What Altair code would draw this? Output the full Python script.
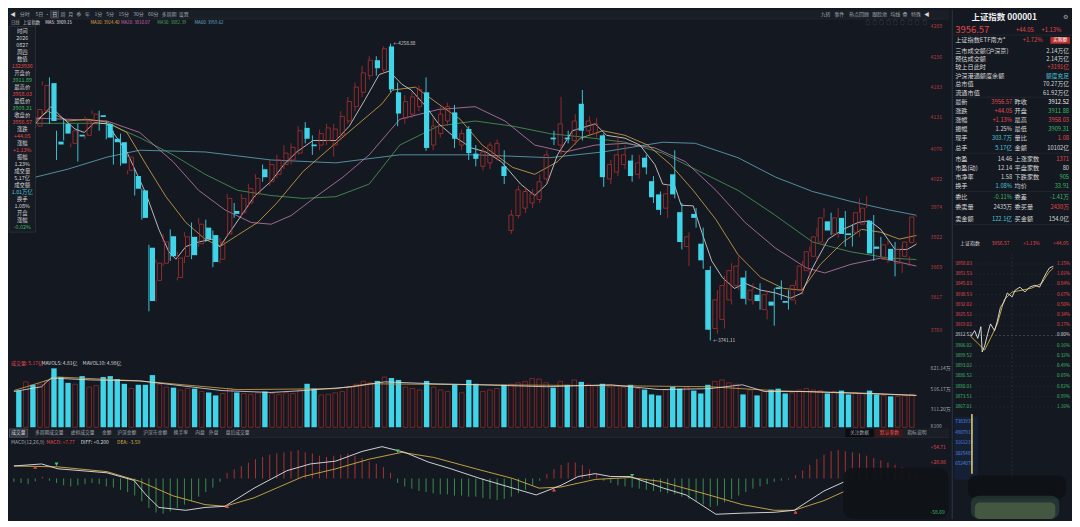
import altair as alt
import pandas as pd

FONT = "Noto Sans CJK SC"
BG = "#141821"
CYAN = "#3fd4e8"
CRED = "#ad312f"
TRED = "#e2484a"
TGRN = "#3dbb62"
TWHT = "#d6d6d6"
TGRY = "#a0a6ae"
TTEAL = "#4cc6d6"
LINEC = "#232831"

# ---------------- data ----------------
opens = [4119, 4109, 4124, 4115, 4141, 4190, 4088, 4119, 4085, 4100,
         4099, 4119, 4134, 4119, 4093, 4087, 4038, 4028, 4003, 3903,
         3846, 3876, 3923, 3851, 3888, 3922, 3910, 3938, 3925, 3883,
         3927, 3967, 3964, 3981, 3997, 4040, 4018, 4031, 4048, 4056,
         4068, 4112, 4083, 4082, 4090, 4082, 4099, 4124, 4149, 4174,
         4203, 4230, 4213, 4254, 4174, 4129, 4136, 4149, 4174, 4082,
         4102, 4124, 4139, 4082, 4110, 4067, 4045, 4051, 4061, 4045,
         3933, 3959, 3972, 3981, 3987, 4023, 4095, 4082, 4095, 4090,
         4154, 4107, 4102, 4099, 4023, 4035, 4048, 4055, 4031, 4060,
         4019, 3996, 3972, 4031, 3965, 3905, 3962, 3910, 3864, 3762,
         3778, 3812, 3837, 3851, 3812, 3821, 3795, 3809, 3834, 3810,
         3812, 3829, 3863, 3888, 3913, 3949, 3927, 3955, 3928, 3930,
         3944, 3950, 3905, 3883, 3901, 3876, 3888, 3911.88]
closes = [4105, 4129, 4112, 4144, 4186, 4124, 4083, 4102, 4107, 4097,
          4124, 4136, 4131, 4095, 4087, 4050, 4061, 4006, 3955, 3810,
          3876, 3913, 3888, 3885, 3922, 3890, 3944, 3918, 3878, 3913,
          3989, 3962, 3989, 4006, 4024, 4026, 4048, 4056, 4068, 4078,
          4107, 4093, 4080, 4102, 4112, 4110, 4132, 4158, 4183, 4208,
          4230, 4216, 4250, 4179, 4137, 4158, 4166, 4179, 4077, 4115,
          4136, 4149, 4093, 4102, 4068, 4058, 4070, 4082, 4085, 4028,
          3960, 4004, 4001, 3997, 4018, 4065, 4092, 4119, 4092, 4124,
          4107, 4124, 4119, 4026, 4048, 4065, 4065, 4028, 4051, 4043,
          3991, 3969, 3997, 3996, 3913, 3922, 3955, 3881, 3760, 3812,
          3837, 3863, 3871, 3814, 3829, 3810, 3821, 3802, 3831, 3807,
          3837, 3871, 3896, 3922, 3955, 3933, 3955, 3927, 3925, 3964,
          3972, 3893, 3901, 3908, 3881, 3900, 3913, 3956.57]
highs = [4129, 4136, 4132, 4149, 4193, 4200, 4107, 4127, 4115, 4119,
         4132, 4142, 4142, 4124, 4107, 4102, 4068, 4040, 4006, 3908,
         3883, 3927, 3935, 3896, 3930, 3947, 3955, 3952, 3933, 3920,
         3997, 3981, 3997, 4014, 4031, 4048, 4056, 4065, 4082, 4085,
         4115, 4122, 4099, 4109, 4119, 4119, 4141, 4166, 4191, 4220,
         4237, 4237, 4254, 4258.88, 4191, 4169, 4174, 4186, 4200, 4129,
         4149, 4156, 4152, 4109, 4115, 4082, 4077, 4087, 4092, 4073,
         3969, 4011, 4008, 4006, 4031, 4073, 4107, 4166, 4107, 4136,
         4178, 4132, 4129, 4102, 4056, 4099, 4082, 4065, 4065, 4065,
         4028, 4001, 4014, 4073, 3981, 3930, 3972, 3938, 3871, 3829,
         3854, 3876, 3888, 3863, 3841, 3841, 3829, 3832, 3846, 3829,
         3846, 3880, 3905, 3938, 3972, 3964, 3972, 3967, 3944, 3989,
         3993, 3960, 3922, 3917, 3913, 3908, 3922, 3958.03]
lows = [4099, 4102, 4105, 4110, 4136, 4119, 4056, 4090, 4078, 4053,
        4092, 4112, 4107, 4092, 4048, 4046, 4031, 3994, 3952, 3792,
        3809, 3871, 3880, 3846, 3876, 3883, 3905, 3913, 3869, 3876,
        3922, 3955, 3957, 3974, 3991, 4018, 4011, 4024, 4040, 4048,
        4065, 4085, 4065, 4073, 4082, 4062, 4090, 4119, 4141, 4166,
        4196, 4203, 4206, 4174, 4115, 4119, 4129, 4141, 4072, 4073,
        4095, 4115, 4077, 4073, 4056, 4045, 4038, 4040, 4055, 4014,
        3927, 3954, 3964, 3972, 3981, 4014, 4082, 4065, 4085, 4082,
        4090, 4099, 4095, 4009, 4014, 4028, 4040, 4018, 4023, 4031,
        3981, 3960, 3955, 3989, 3900, 3871, 3938, 3866, 3741.11, 3753,
        3762, 3804, 3829, 3804, 3804, 3795, 3778, 3767, 3812, 3795,
        3804, 3821, 3854, 3880, 3905, 3925, 3920, 3905, 3905, 3922,
        3937, 3880, 3888, 3876, 3853, 3859, 3871, 3909.31]
volumes = [511, 633, 592, 600, 650, 821, 700, 619, 600, 713,
           560, 580, 700, 713, 673, 606, 540, 592, 592, 727,
           600, 560, 552, 520, 540, 538, 500, 485, 444, 470,
           540, 485, 470, 460, 480, 498, 470, 460, 480, 470,
           520, 606, 538, 450, 460, 480, 500, 560, 600, 640,
           620, 646, 700, 686, 660, 560, 540, 520, 646, 560,
           520, 500, 592, 480, 660, 606, 500, 520, 540, 592,
           600, 620, 640, 680, 672, 620, 552, 640, 592, 660,
           633, 600, 580, 606, 560, 580, 560, 592, 540, 525,
           458, 444, 520, 565, 538, 560, 511, 471, 592, 640,
           660, 620, 600, 458, 520, 444, 500, 525, 538, 471,
           480, 520, 540, 520, 510, 471, 500, 511, 458, 480,
           470, 511, 458, 440, 431, 430, 440, 460]

ma5 = [(3.0, 4119), (3.9, 4132), (5.2, 4149), (6.6, 4132), (8.6, 4110), (9.9, 4104), (11.3, 4121),
       (13.1, 4119), (15.9, 4070), (18.6, 3997), (20.4, 3935), (21.8, 3896), (22.8, 3883), (24.2, 3905),
       (26.0, 3913), (27.9, 3918), (29.0, 3905), (30.1, 3925), (32.0, 3959), (33.8, 3992), (36.2, 4019),
       (38.0, 4048), (39.8, 4070), (42.1, 4090), (45.3, 4090), (47.2, 4115), (49.4, 4161), (51.4, 4205),
       (52.8, 4211), (54.6, 4188), (55.9, 4178), (58.0, 4149), (59.7, 4120), (61.7, 4099), (64.4, 4077),
       (66.4, 4070), (68.6, 4053), (71.3, 4014), (73.3, 3994), (75.0, 4014), (76.5, 4065), (78.6, 4107),
       (81.8, 4119), (83.4, 4099), (86.0, 4094), (88.1, 4082), (90.2, 4048), (91.3, 4014), (93.0, 4011),
       (93.9, 3977), (95.6, 3976), (96.8, 3930), (98.2, 3880), (99.7, 3851), (101.4, 3832), (102.9, 3841),
       (105.1, 3829), (107.2, 3824), (109.3, 3815), (110.9, 3824), (112.4, 3868), (114.6, 3918),
       (116.7, 3935), (118.8, 3947), (120.4, 3950), (122.0, 3935), (124.0, 3900), (125.7, 3900),
       (127.0, 3909.15)]
ma10 = [(3.0, 4124), (4.8, 4141), (7.6, 4124), (10.4, 4127), (13.1, 4122), (15.9, 4104), (18.6, 4048),
        (21.4, 3992), (24.2, 3947), (26.9, 3918), (29.0, 3905), (31.5, 3925), (34.3, 3947), (37.0, 3981),
        (40.7, 4036), (44.5, 4077), (48.1, 4115), (51.8, 4154), (53.3, 4178), (56.5, 4183), (59.7, 4154),
        (62.8, 4127), (65.9, 4082), (70.2, 4043), (73.3, 4031), (76.5, 4053), (79.7, 4094), (82.9, 4107),
        (86.0, 4099), (89.2, 4082), (92.4, 4048), (95.6, 4003), (98.8, 3952), (101.9, 3891), (105.1, 3851),
        (108.3, 3832), (110.9, 3829), (113.5, 3874), (116.7, 3913), (119.3, 3935), (122.0, 3930),
        (124.6, 3918), (127.0, 3924.40)]
ma20 = [(3.0, 4129), (7.6, 4127), (13.1, 4124), (17.7, 4104), (22.4, 4053), (26.0, 4003), (29.7, 3969),
        (33.4, 3947), (36.2, 3944), (39.0, 3959), (42.5, 3992), (46.3, 4026), (50.0, 4065), (54.3, 4127),
        (59.7, 4144), (64.9, 4149), (69.1, 4124), (73.3, 4082), (77.6, 4070), (81.8, 4082), (86.0, 4085),
        (90.2, 4077), (94.5, 4053), (98.8, 4003), (102.9, 3947), (107.2, 3902), (111.5, 3868),
        (114.1, 3859), (117.8, 3874), (122.0, 3885), (127.0, 3871)]
ma30 = [(3.0, 4120), (13.1, 4120), (17.7, 4095), (22.4, 4065), (26.9, 4031), (31.5, 4003), (36.2, 3994),
        (40.7, 3989), (45.3, 3992), (50.0, 4014), (54.3, 4082), (59.7, 4115), (64.9, 4124), (70.2, 4115),
        (75.4, 4102), (80.8, 4095), (86.0, 4087), (91.3, 4068), (96.5, 4036), (101.9, 4003), (107.2, 3959),
        (112.4, 3913), (117.7, 3896), (123.1, 3885), (127.0, 3882.39)]
ma60 = [(3.0, 4026), (7.6, 4040), (13.1, 4061), (17.7, 4073), (26.9, 4070), (36.2, 4056), (45.3, 4051),
        (54.3, 4065), (64.9, 4065), (75.4, 4060), (82.9, 4070), (91.3, 4087), (95.9, 4085), (101.9, 4060),
        (107.2, 4026), (112.4, 4001), (117.7, 3984), (123.1, 3969), (127.0, 3959.62)]

mavol5 = [(0, 498), (3.9, 565), (5.2, 686), (10.8, 660), (17.7, 646), (22.4, 592), (29.3, 511), (36.2, 485),
          (40.7, 511), (47.7, 565), (52.2, 633), (59.1, 606), (65.6, 592), (74.9, 565), (84.0, 592),
          (90.9, 525), (97.8, 538), (102.5, 592), (105.7, 498), (111.6, 498), (120.9, 471), (127.0, 444)]
mavol10 = [(0, 511), (6.2, 700), (17.7, 646), (31.5, 525), (45.3, 538), (50.0, 606), (65.6, 592),
           (84.0, 579), (97.8, 565), (107.0, 511), (127.0, 444)]

diff_line = [(0, 22), (3.9, 25.5), (6.2, 17), (13.1, 10), (16.9, -3.4), (18.6, -29), (20.4, -51), (24.2, -56),
             (26.9, -51), (29.7, -49), (33.8, -17), (38.4, 13.6), (41.7, 25.5), (45.3, 30.6), (49.0, 47.6),
             (51.8, 56), (55.0, 46), (58.3, 29), (61.5, 17), (65.6, 0), (69.3, -13.6), (73.5, -29), (77.0, -12),
             (79.4, 3.4), (81.8, 8.5), (84.0, 3.4), (86.7, 3.4), (89.5, -8.5), (91.4, -17), (94.6, -29),
             (98.8, -63), (102.5, -61), (107.0, -59.5), (109.8, -56), (114.0, -22), (117.0, -5)]
dea_line = [(0, 22), (6.2, 20.4), (13.1, 12), (17.7, -5), (22.4, -30.6), (26.9, -46), (29.7, -49), (33.8, -34),
            (40.7, 3.4), (45.3, 17), (50.0, 34), (54.6, 46), (59.1, 37), (65.6, 15), (70.2, 0), (73.9, -17),
            (77.0, -15), (81.8, -1.7), (86.7, 1.7), (90.9, -5), (97.8, -29), (102.5, -46), (107.0, -56),
            (109.8, -56), (114.0, -39), (117.0, -22)]
macd_hist = [-6, -8, -10, -5, 3, -4, -8, -12, -14, -12,
             -10, -8, -10, -14, -16, -20, -24, -30, -40, -52,
             -60, -62, -58, -52, -46, -40, -32, -24, -16, -6,
             10, 16, 22, 28, 34, 38, 42, 44, 46, 48,
             50, 46, 44, 40, 38, 40, 42, 44, 40, 36,
             30, 26, 20, 10, -8, -14, -18, -22, -24, -26,
             -28, -28, -30, -30, -32, -32, -34, -36, -38, -36,
             -32, -26, -20, -12, -4, 8, 16, 24, 28, 28,
             24, 16, 8, -4, -8, -12, -14, -16, -18, -20,
             -22, -24, -26, -28, -32, -36, -40, -46, -50, -48,
             -42, -36, -30, -24, -18, -14, -10, -6, -4, -2,
             6, 14, 24, 34, 42, 48, 50, 48, 46, 44,
             40, 36, 32, 28, 24, 20, 16, 12]
macd_marks = [(3, 20, "up"), (6, 25, "down"), (30, -49, "up"), (54, 48, "down"),
              (76, -20, "up"), (87, 5, "down"), (110, -59, "up")]

price_ticks = [4289, 4236, 4183, 4131, 4076, 4022, 3974, 3922, 3869, 3817, 3760]
extremes = [(53, 4258.88, "←4258.88"), (98, 3741.11, "←3741.11")]

intraday_t = [0, 11, 20, 29, 33, 40, 49, 57, 69, 77, 86, 97, 106, 120, 129, 143, 157, 171, 186, 200, 211, 220, 229, 240]
intraday_p = [3911.9, 3915.6, 3910.7, 3918.1, 3902.0, 3905.8, 3913.8, 3919.9, 3915.6, 3921.7, 3930.4, 3934.0,
              3939.6, 3937.1, 3941.4, 3943.3, 3940.2, 3943.3, 3944.5, 3943.3, 3948.8, 3952.5, 3955.6, 3956.57]
avg_t = [0, 20, 40, 57, 77, 97, 120, 149, 177, 206, 226, 240]
avg_p = [3911.9, 3907.6, 3903.3, 3910.7, 3919.9, 3935.3, 3940.2, 3941.4, 3942.7, 3945.7, 3952.5, 3955.6]
mini_levels = [3958.03, 3951.53, 3945.03, 3938.53, 3932.02, 3925.52, 3919.02, 3912.52,
               3906.02, 3899.52, 3893.02, 3886.52, 3880.01, 3873.51, 3867.01]
mini_pct = ["1.15%", "1.01%", "0.84%", "0.67%", "0.50%", "0.34%", "0.17%", "0.00%",
            "0.16%", "0.32%", "0.49%", "0.65%", "0.82%", "0.99%", "1.16%"]
mini_vol_labels = ["7383937", "4907913", "3161219", "3025485", "6524076"]
mini_vol_t = [3]
mini_vol_v = [8600000]

# ---------------- layout calibration ----------------
W, H = 1064, 511
SX, SY = W / 1080.0, H / 527.0


def sx(x):
    return x * SX


def sy(y):
    return y * SY


LW = round(sx(958))
RW = W - LW
HP = round(sy(360))
HV = round(sy(433)) - HP
HM = H - HP - HV
Y1, Y2 = HP, HP + HV

K = (4289 - 3760) / (331 - 17)


def price_at(yr):
    return 4289 - (yr - 17) * K


VK = 821.14 / (432 - 371)


def vol_at(yr):
    return (432 - yr) * VK


def macd_at(yr):
    return (485 - yr) * 1.7


def t_at(xr):
    return (xr - 978) / 0.35


def ip_at(yr):
    return 3912.52 + (337 - yr) * 0.615


def mv_at(yr):
    return (480 - yr) * 7383937 / (480 - 427)


XS = alt.Scale(domain=[(0 - 5) / 7.24, (LW / SX - 5) / 7.24], nice=False, zero=False)
PS = alt.Scale(domain=[price_at(HP / SY), price_at(0)], nice=False, zero=False)
VS = alt.Scale(domain=[vol_at(Y2 / SY), vol_at(Y1 / SY)], nice=False, zero=False)
MS = alt.Scale(domain=[macd_at(H / SY), macd_at(Y2 / SY)], nice=False, zero=False)
TS = alt.Scale(domain=[t_at(LW / SX), t_at(1080)], nice=False, zero=False)
IS = alt.Scale(domain=[ip_at(527), ip_at(0)], nice=False, zero=False)
MVS = alt.Scale(domain=[mv_at(527), mv_at(0)], nice=False, zero=False)

ONE = pd.DataFrame({"a": [0]})


def T(rows, ox=0.0, oy=0.0, align="left", weight="normal"):
    df = pd.DataFrame([{"px": sx(r[0]) - ox, "py": sy(r[1]) - oy, "t": r[2], "col": r[3], "fs": r[4]}
                       for r in rows])
    return alt.Chart(df).mark_text(align=align, baseline="middle", font=FONT, fontWeight=weight).encode(
        x=alt.X("px:Q", scale=None, axis=None),
        y=alt.Y("py:Q", scale=None, axis=None),
        text=alt.Text("t:N"),
        color=alt.Color("col:N", scale=None, legend=None),
        size=alt.Size("fs:Q", scale=None, legend=None),
    )


def R(x1, y1, x2, y2, fill, stroke=None, ox=0.0, oy=0.0, sw=0.6, opacity=1.0, radius=0):
    kw = {"fill": fill, "opacity": opacity}
    if radius:
        kw["cornerRadius"] = radius
    if stroke:
        kw.update(stroke=stroke, strokeWidth=sw)
    return alt.Chart(ONE).mark_rect(**kw).encode(
        x=alt.value(sx(x1) - ox), x2=alt.value(sx(x2) - ox),
        y=alt.value(sy(y1) - oy), y2=alt.value(sy(y2) - oy))


def L(x1, y1, x2, y2, color=LINEC, ox=0.0, oy=0.0, sw=0.8):
    return alt.Chart(ONE).mark_rule(color=color, strokeWidth=sw).encode(
        x=alt.value(sx(x1) - ox), x2=alt.value(sx(x2) - ox),
        y=alt.value(sy(y1) - oy), y2=alt.value(sy(y2) - oy))


# ---------------- price panel ----------------
cdf = pd.DataFrame({"i": list(range(len(opens))), "o": opens, "c": closes, "h": highs, "l": lows, "v": volumes})
cdf["top"] = cdf[["o", "c"]].max(axis=1)
cdf["bot"] = cdf[["o", "c"]].min(axis=1)
cdf["z"] = 0.0
up = cdf[cdf.c >= cdf.o]
dn = cdf[cdf.c < cdf.o]

X = alt.X("i:Q", scale=XS, axis=None)


def PY(f):
    return alt.Y(f"{f}:Q", scale=PS, axis=None)


ma_rows = []
for name, pairs, col in [("MA60", ma60, "#5fa9bc"), ("MA30", ma30, "#4a9c5a"), ("MA20", ma20, "#c27aae"),
                         ("MA10", ma10, "#d7a548"), ("MA5", ma5, "#dedede")]:
    for i, p in pairs:
        ma_rows.append({"ma": name, "i": i, "p": p, "col": col})
ma_df = pd.DataFrame(ma_rows)
ma_layer = alt.Chart(ma_df).mark_line(strokeWidth=0.9, opacity=0.9).encode(
    x=X, y=PY("p"), detail="ma:N", color=alt.Color("col:N", scale=None, legend=None))

wick_up1 = alt.Chart(up).mark_rule(color=CRED, strokeWidth=0.8).encode(x=X, y=PY("h"), y2="top:Q")
wick_up2 = alt.Chart(up).mark_rule(color=CRED, strokeWidth=0.8).encode(x=X, y=PY("bot"), y2="l:Q")
wick_dn = alt.Chart(dn).mark_rule(color=CYAN, strokeWidth=0.9).encode(x=X, y=PY("h"), y2="l:Q")
body_up = alt.Chart(up).mark_bar(size=4.2, fill=CRED, fillOpacity=0, stroke=CRED, strokeWidth=0.8).encode(
    x=X, y=PY("bot"), y2="top:Q")
body_dn = alt.Chart(dn).mark_bar(size=5.2, color=CYAN).encode(x=X, y=PY("top"), y2="bot:Q")

ext_df = pd.DataFrame([{"i": e[0], "p": e[1], "t": e[2]} for e in extremes])
ext_layer = alt.Chart(ext_df).mark_text(align="left", baseline="middle", dx=3, font=FONT, fontSize=4.8,
                                        color="#cfcfcf").encode(x=X, y=PY("p"), text="t:N")

pt_df = pd.DataFrame({"p": price_ticks, "t": [str(v) for v in price_ticks]})
pt_layer = alt.Chart(pt_df).mark_text(align="left", baseline="middle", font=FONT, fontSize=5.2,
                                      color="#b23c3c").encode(x=alt.value(sx(939)), y=PY("p"), text="t:N")

toolbar_bg = R(0, 0, 958, 9.3, "#1a1e27")
toolbar_line = L(0, 9.3, 958, 9.3)
day_box = R(42.5, 1, 50.5, 8.3, "#2a303a", stroke="#6a707a", sw=0.5)
tb_rows = [(4, 4.7, "◀", TWHT, 5.5), (16, 4.7, "分时", TGRY, 5), (31, 4.7, "5日", TGRY, 5), (39, 4.7, "·", TGRY, 5),
           (46.5, 4.7, "日", TWHT, 5), (55, 4.7, "周", TGRY, 5), (63, 4.7, "月", TGRY, 5), (71, 4.7, "季", TGRY, 5),
           (80, 4.7, "年", TGRY, 5), (91, 4.7, "1分", TGRY, 5), (103, 4.7, "5分", TGRY, 5),
           (117, 4.7, "15分", TGRY, 5), (132, 4.7, "30分", TGRY, 5), (147, 4.7, "60分", TGRY, 5),
           (163, 4.7, "多周期", TGRY, 5), (178, 4.7, "设置", TGRY, 5),
           (832, 4.7, "九转", TGRY, 5), (846, 4.7, "事件", TGRY, 5), (866, 4.7, "热点回顾", TGRY, 5),
           (887, 4.7, "跟踪池", TGRY, 5), (903, 4.7, "均线", TGRY, 5), (913, 4.7, "叠", TGRY, 5),
           (924, 4.7, "特殊", TGRY, 5), (935, 4.7, "◀", TWHT, 5.5)]
icon_rows = [(x, 13.3, "○", "#7a8088", 4.5) for x in (875, 882, 889, 896, 903, 910, 918, 925, 933)]
ma_head = [(2, 13.3, "日线", TGRY, 4.4), (14, 13.3, "上证指数", TWHT, 4.4), (37, 13.3, "MA5: 3909.15", "#e6e6e6", 4.4),
           (83, 13.3, "MA10: 3924.40", "#e0a94c", 4.4), (114, 13.3, "MA20: 3810.07", "#d06ab4", 4.4),
           (151, 13.3, "MA30: 3882.39", "#46a85a", 4.4), (189, 13.3, "MA60: 3959.62", "#62b4d2", 4.4)]

info_box = R(0, 17, 27, 230, "#161b24", stroke="#333a44", sw=0.6)
info_vals = [("时间", TWHT), ("2026", TWHT), ("0827", TWHT), ("周四", TWHT), ("数值", TWHT), ("1323936", TRED),
             ("开盘价", TWHT), ("3911.89", TGRN), ("最高价", TWHT), ("3958.03", TRED), ("最低价", TWHT),
             ("3909.31", TGRN), ("收盘价", TWHT), ("3956.57", TRED), ("涨跌", TWHT), ("+44.05", TRED),
             ("涨幅", TWHT), ("+1.13%", TRED), ("振幅", TWHT), ("1.23%", TWHT), ("成交量", TWHT),
             ("5.17亿", TWHT), ("成交额", TWHT), ("1.01万亿", TTEAL), ("换手", TWHT), ("1.08%", TWHT),
             ("开盘", TWHT), ("涨幅", TWHT), ("-0.02%", TGRN)]
info_rows = [(13.5, 22 + k * 7.25, t, c, 5.4) for k, (t, c) in enumerate(info_vals)]

price_panel = alt.layer(
    ma_layer, wick_up1, wick_up2, wick_dn, body_up, body_dn, ext_layer, pt_layer,
    toolbar_bg, toolbar_line, day_box, T(tb_rows, align="center"), T(icon_rows, align="center"),
    T(ma_head), info_box, T(info_rows, align="center"),
).resolve_scale(x="independent", y="independent", color="independent", size="independent").properties(
    width=LW, height=HP)

# ---------------- volume panel ----------------
def VY(f):
    return alt.Y(f"{f}:Q", scale=VS, axis=None)


vol_up = alt.Chart(up).mark_bar(size=4.6, fill=CRED, fillOpacity=0, stroke="#832826", strokeWidth=0.9).encode(
    x=X, y=VY("z"), y2="v:Q")
vol_dn = alt.Chart(dn).mark_bar(size=5.4, color=CYAN).encode(x=X, y=VY("z"), y2="v:Q")
mv_rows = []
for name, pairs, col in [("MAVOL10", mavol10, "#d7a548"), ("MAVOL5", mavol5, "#dedede")]:
    for i, v in pairs:
        mv_rows.append({"m": name, "i": i, "v": v, "col": col})
mv_layer = alt.Chart(pd.DataFrame(mv_rows)).mark_line(strokeWidth=0.9, opacity=0.9).encode(
    x=X, y=VY("v"), detail="m:N", color=alt.Color("col:N", scale=None, legend=None))
vol_head = [(2, 365, "成交量: 5.17亿", TRED, 5), (33, 365, "MAVOL5: 4.81亿", TWHT, 5),
            (75, 365, "MAVOL10: 4.98亿", TWHT, 5)]
vol_axis = [(939, 371, "821.14万", TGRY, 5), (939, 392, "516.17万", TGRY, 5), (939, 413, "311.20万", TGRY, 5),
            (939, 431, "X100", TGRY, 5)]
vol_panel = alt.layer(
    vol_up, vol_dn, mv_layer, T(vol_head, oy=Y1), T(vol_axis, oy=Y1),
).resolve_scale(x="independent", y="independent", color="independent", size="independent").properties(
    width=LW, height=HV)

# ---------------- MACD panel ----------------
def MY(f):
    return alt.Y(f"{f}:Q", scale=MS, axis=None)


hist_df = pd.DataFrame({"i": list(range(len(macd_hist))), "h": macd_hist, "z": 0.0})
hist_df["col"] = ["#b83636" if v > 0 else "#3b9a52" for v in macd_hist]
hist_layer = alt.Chart(hist_df).mark_rule(strokeWidth=0.9).encode(
    x=X, y=MY("z"), y2="h:Q", color=alt.Color("col:N", scale=None, legend=None))
ln_rows = []
for name, pairs, col in [("DEA", dea_line, "#d3ad45"), ("DIFF", diff_line, "#e4e4e4")]:
    for i, v in pairs:
        ln_rows.append({"n": name, "i": i, "v": v, "col": col})
macd_lines = alt.Chart(pd.DataFrame(ln_rows)).mark_line(strokeWidth=0.9).encode(
    x=X, y=MY("v"), detail="n:N", color=alt.Color("col:N", scale=None, legend=None))
mk_df = pd.DataFrame([{"i": m[0], "v": m[1],
                       "shp": "triangle-up" if m[2] == "up" else "triangle-down",
                       "col": "#e04a46" if m[2] == "up" else "#48c868"} for m in macd_marks])
mk_layer = alt.Chart(mk_df).mark_point(filled=True, size=16, opacity=1).encode(
    x=X, y=MY("v"), shape=alt.Shape("shp:N", scale=None, legend=None),
    color=alt.Color("col:N", scale=None, legend=None))

blur_blob = R(850, 474, 957, 527, "#0f1217", opacity=0.92, radius=10, oy=Y2)
tab_bg = R(0, 433.3, 958, 442.6, "#1a1e27", oy=Y2)
tab_line = L(0, 442.6, 958, 442.6, oy=Y2)
tab_sel = R(0.5, 433.8, 19, 442.2, "#2b313b", stroke="#6a707a", oy=Y2, sw=0.5)
tab_rows = [(9.5, 438, "成交量", TWHT, 4.8), (41, 438, "多周期成交量", TGRY, 4.8), (75, 438, "虚拟成交量", TGRY, 4.8),
            (99.5, 438, "金额", TGRY, 4.8), (120, 438, "沪深金额", TGRY, 4.8), (149, 438, "沪深市金额", TGRY, 4.8),
            (175, 438, "换手率", TGRY, 4.8), (194.5, 438, "内盘", TGRY, 4.8), (208.5, 438, "外盘", TGRY, 4.8),
            (233, 438, "盘后成交量", TGRY, 4.8)]
btn1 = R(852, 433.8, 881, 442.2, "#0b0d11", oy=Y2)
btn2 = R(883, 433.8, 911, 442.2, "#3a181a", oy=Y2)
btn_rows = [(866.5, 438, "关注数据", TGRY, 4.8), (897, 438, "默认参数", "#e25452", 4.8), (925, 438, "指标说明", TGRY, 4.8)]
macd_head = [(2, 447, "MACD(12,26,9)", TGRY, 5), (38, 447, "MACD: +7.77", TRED, 5),
             (73, 447, "DIFF: +0.200", TWHT, 5), (110, 447, "DEA: -3.59", "#d3ad45", 5)]
macd_axis = [(939, 452, "+54.71", TRED, 5), (939, 468, "+20.98", TRED, 5), (939, 520, "-58.69", TGRN, 5)]

macd_panel = alt.layer(
    hist_layer, macd_lines, mk_layer, blur_blob, tab_bg, tab_line, tab_sel, T(tab_rows, oy=Y2, align="center"),
    btn1, btn2, T(btn_rows, oy=Y2, align="center"), T(macd_head, oy=Y2), T(macd_axis, oy=Y2),
).resolve_scale(x="independent", y="independent", color="independent", size="independent",
                shape="independent").properties(width=LW, height=HM)

# ---------------- right panel ----------------
OX = LW
rp_title = [(1012, 7.5, "上证指数 000001", "#f0f0f0", 8.5)]
rp_gear = [(1074, 7.5, "⚙", TGRY, 6)]
rp_price = [(962, 20.5, "3956.57", TRED, 9.5)]
rp_chg = [(1024, 20.5, "+44.05", TRED, 5.8), (1050, 20.5, "+1.13%", TRED, 5.8)]
rp_left = [(962, 31.5, "上证指数ETF南方*", TWHT, 6.2), (962, 42, "三市成交额(沪深京)", TWHT, 6.2),
           (962, 50.5, "预估成交额", TWHT, 6.2), (962, 59, "较上日此时", TWHT, 6.2),
           (962, 68, "沪深港通额度余额", TWHT, 6.2), (962, 77, "总市值", TWHT, 6.2),
           (962, 85.5, "流通市值", TWHT, 6.2)]
rp_leftv = [(1078, 42, "2.14万亿", TWHT, 5.8), (1078, 50.5, "2.14万亿", TWHT, 5.8),
            (1078, 59, "+3191亿", TRED, 5.8), (1078, 68, "额度充足", TTEAL, 5.8),
            (1078, 77, "70.27万亿", TWHT, 5.8), (1078, 85.5, "61.92万亿", TWHT, 5.8)]
tag_box = R(1059, 28, 1079, 35, "#b8302e", ox=OX)
rp_tag = [(1069, 31.5, "买限额", "#ffffff", 4.8), (1041, 31.5, "+1.72%", TRED, 5.8)]
table = [
    (95, "最新", "3956.57", TRED, "昨收", "3912.52", "#f0f0f0"),
    (104.5, "涨跌", "+44.05", TRED, "开盘", "3911.88", TGRN),
    (114, "涨幅", "+1.13%", TRED, "最高", "3958.03", TRED),
    (123.5, "振幅", "1.25%", TWHT, "最低", "3909.31", TGRN),
    (133, "现手", "303.7万", TTEAL, "量比", "1.08", TRED),
    (142.5, "总手", "5.17亿", TTEAL, "金额", "10102亿", TWHT),
    (154, "市盈", "14.46", TWHT, "上涨家数", "1371", TRED),
    (163.5, "市盈(动)", "12.14", TWHT, "平盘家数", "80", TWHT),
    (173, "市净率", "1.58", TWHT, "下跌家数", "905", TGRN),
    (182.5, "换手", "1.08%", TTEAL, "均价", "33.91", TGRN),
    (193.5, "委比", "-0.11%", TGRN, "委差", "-1.41万", TGRN),
    (204, "委卖量", "2435万", TWHT, "委买量", "2430万", TRED),
    (216, "卖金额", "122.1亿", TTEAL, "买金额", "154.0亿", TWHT),
]
tl = [(962, r[0], r[1], TWHT, 6.2) for r in table] + [(1022.5, r[0], r[4], TWHT, 6.2) for r in table]
tv1 = [(1020, r[0], r[2], r[3], 5.8) for r in table]
tv2 = [(1078, r[0], r[5], r[6], 5.8) for r in table]

mini_head = [(967, 241, "上证指数", TWHT, 5), (999, 241, "3956.57", TRED, 5), (1031, 241, "+1.13%", TRED, 5),
             (1062, 241, "+44.05", TRED, 5)]
vol_bg = R(961, 421, 985, 486, "#152036", ox=OX)
vol_lbl = [(962, 427 + k * 10.8, t, "#4f86d8", 4.6) for k, t in enumerate(mini_vol_labels)]
dark_blur = R(975, 482, 1075, 506, "#0d1014", ox=OX, opacity=0.8, radius=8)
green_blur1 = R(978, 503, 1068, 527, "#6fc08c", ox=OX, opacity=0.18, radius=8)
green_blur2 = R(982, 510, 1064, 527, "#b8d070", ox=OX, opacity=0.22, radius=5)

lv_df = pd.DataFrame({"lv": mini_levels, "pct": mini_pct})
lv_df["col"] = [TRED if v > 3912.6 else (TWHT if abs(v - 3912.52) < 0.05 else TGRN) for v in mini_levels]
lv_df["gcol"] = ["#5a6068" if abs(v - 3912.52) < 0.05 else "#262c35" for v in mini_levels]
IY = alt.Y("lv:Q", scale=IS, axis=None)
mini_grid = alt.Chart(lv_df).mark_rule(strokeWidth=0.6, strokeDash=[2, 2]).encode(
    x=alt.value(sx(962) - OX), x2=alt.value(sx(1066) - OX), y=IY,
    color=alt.Color("gcol:N", scale=None, legend=None))
mini_lab = alt.Chart(lv_df).mark_text(align="left", baseline="middle", font=FONT, fontSize=4.6).encode(
    x=alt.value(sx(962) - OX), y=IY, text="lv:N", color=alt.Color("col:N", scale=None, legend=None))
mini_pct_l = alt.Chart(lv_df).mark_text(align="right", baseline="middle", font=FONT, fontSize=4.6).encode(
    x=alt.value(sx(1079) - OX), y=IY, text="pct:N", color=alt.Color("col:N", scale=None, legend=None))
mid_df = pd.DataFrame({"t": [120]})
mini_mid = alt.Chart(mid_df).mark_rule(color="#323945", strokeWidth=0.6, strokeDash=[2, 2]).encode(
    x=alt.X("t:Q", scale=TS, axis=None), y=alt.value(sy(252)), y2=alt.value(sy(500)))
id_df = pd.DataFrame({"t": intraday_t, "p": intraday_p})
av_df = pd.DataFrame({"t": avg_t, "p": avg_p})
mini_avg = alt.Chart(av_df).mark_line(color="#d8b23c", strokeWidth=0.9).encode(
    x=alt.X("t:Q", scale=TS, axis=None), y=alt.Y("p:Q", scale=IS, axis=None))
mini_line = alt.Chart(id_df).mark_line(color="#e8e8e8", strokeWidth=0.9).encode(
    x=alt.X("t:Q", scale=TS, axis=None), y=alt.Y("p:Q", scale=IS, axis=None))
mv_df = pd.DataFrame({"t": mini_vol_t, "v": mini_vol_v, "z": 0.0})
mini_vol = alt.Chart(mv_df).mark_rule(color="#d8c860", strokeWidth=1.6).encode(
    x=alt.X("t:Q", scale=TS, axis=None), y=alt.Y("z:Q", scale=MVS, axis=None), y2="v:Q")

right_panel = alt.layer(
    L(959, 0, 959, 527, color="#2f3540", ox=OX, sw=1.0),
    T(rp_title, ox=OX, align="center", weight="bold"), T(rp_gear, ox=OX, align="center"),
    T(rp_price, ox=OX), T(rp_chg, ox=OX),
    L(961, 26, 1080, 26, ox=OX), tag_box, T(rp_tag, ox=OX, align="center"),
    T(rp_left, ox=OX), T(rp_leftv, ox=OX, align="right"),
    L(961, 90.3, 1080, 90.3, ox=OX), L(961, 148.3, 1080, 148.3, ox=OX), L(961, 188, 1080, 188, ox=OX),
    L(961, 222, 1080, 222, ox=OX),
    T(tl, ox=OX), T(tv1, ox=OX, align="right"), T(tv2, ox=OX, align="right"),
    T(mini_head, ox=OX),
    mini_grid, mini_mid, mini_lab, mini_pct_l, mini_avg, mini_line,
    vol_bg, T(vol_lbl, ox=OX), mini_vol, dark_blur, green_blur1, green_blur2,
).resolve_scale(x="independent", y="independent", color="independent", size="independent").properties(
    width=RW, height=H)

left = alt.vconcat(price_panel, vol_panel, macd_panel, spacing=0, bounds="flush")
chart = alt.hconcat(left, right_panel, spacing=0).properties(
    padding=0, background=BG).configure(font=FONT).configure_view(stroke=None, strokeWidth=0)

chart.save("out.html", embed_options={"renderer": "svg", "actions": False})
